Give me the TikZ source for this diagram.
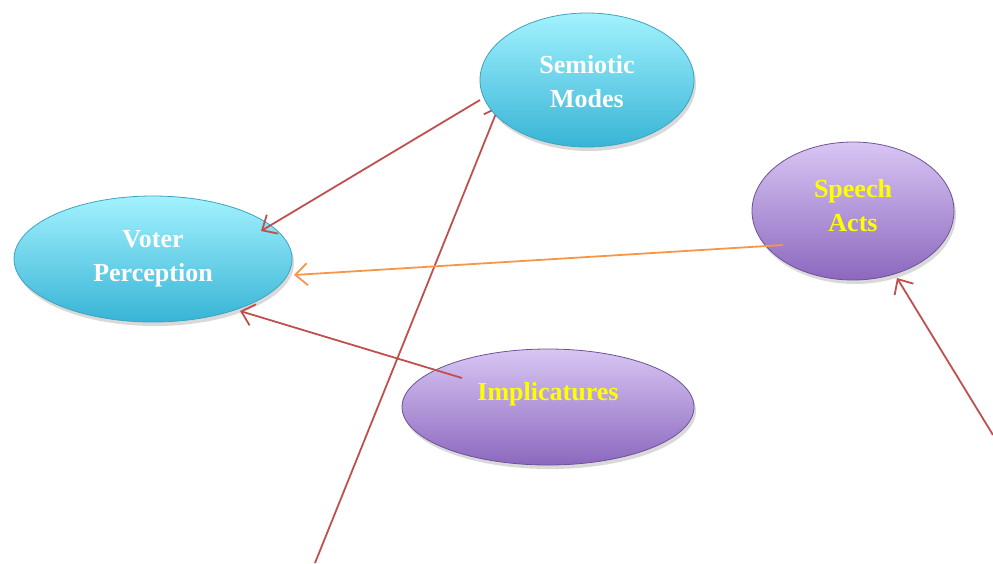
\documentclass[tikz,border=0pt]{standalone}
\usepackage{fontspec}
\setmainfont{Liberation Serif}
\usetikzlibrary{arrows.meta,shadows,shapes.geometric}
\definecolor{cyantop}{HTML}{A2F2FE}
\definecolor{cyanbot}{HTML}{38B4D6}
\definecolor{cyanedge}{HTML}{3FA3BF}
\definecolor{purtop}{HTML}{D8C6F4}
\definecolor{purbot}{HTML}{8C68BE}
\definecolor{puredge}{HTML}{6E5296}
\definecolor{redline}{HTML}{C0504D}
\definecolor{orangeline}{HTML}{F79646}
\definecolor{yellowtxt}{HTML}{FFFF00}
\tikzset{
  bubble/.style={ellipse, draw, line width=0.8pt, align=center,
    font=\fontsize{26}{34}\selectfont\bfseries, inner sep=0pt,
    drop shadow={shadow xshift=2pt, shadow yshift=-4pt, opacity=0.3}},
  cyanb/.style={bubble, draw=cyanedge, top color=cyantop, bottom color=cyanbot, text=white},
  purb/.style={bubble, draw=puredge, top color=purtop, bottom color=purbot, text=yellowtxt},
  bubbletext/.style={align=center, font=\fontsize{26}{34}\selectfont\bfseries, inner sep=0pt},
  redarrow/.style={draw=redline, line width=1.8pt, -{Straight Barb[length=12pt,width=22pt,line width=1.8pt]}},
  orangearrow/.style={draw=orangeline, line width=1.8pt, -{Straight Barb[length=12pt,width=22pt,line width=1.8pt]}}
}
\begin{document}
\begin{tikzpicture}[x=1pt,y=-1pt]
\useasboundingbox (0,0) rectangle (993,563);
% arrow behind Semiotic Modes
\coordinate (b1) at (315,563);
\coordinate (t1) at (499,106);
\draw[redarrow] (b1) -- (t1);
\node[cyanb, minimum width=214pt, minimum height=134pt] (sm) at (587,80) {};
\node[bubbletext, text=white] (smt) at (587,82) {Semiotic\\Modes};
\node[cyanb, minimum width=278pt, minimum height=126pt] (vp) at (153,259) {};
\node[bubbletext, text=white] (vpt) at (153,259) {Voter\\Perception};
\node[purb, minimum width=202pt, minimum height=138pt] (sa) at (853,211) {};
\node[bubbletext, text=yellowtxt] (sat) at (853,206) {Speech\\Acts};
\node[purb, minimum width=292pt, minimum height=116pt] (im) at (548,407) {};
\node[bubbletext, text=yellowtxt] (imt) at (548,394) {Implicatures};
\coordinate (s1) at (480,100);
\coordinate (e1) at (261,231);
\draw[redarrow] (s1) -- (e1);
\coordinate (s2) at (783,245);
\coordinate (e2) at (294,275);
\draw[orangearrow] (s2) -- (e2);
\coordinate (s3) at (462,378);
\coordinate (e3) at (240,311);
\draw[redarrow] (s3) -- (e3);
\coordinate (s5) at (993,435);
\coordinate (e5) at (897,278);
\draw[redarrow] (s5) -- (e5);
\end{tikzpicture}
\end{document}
